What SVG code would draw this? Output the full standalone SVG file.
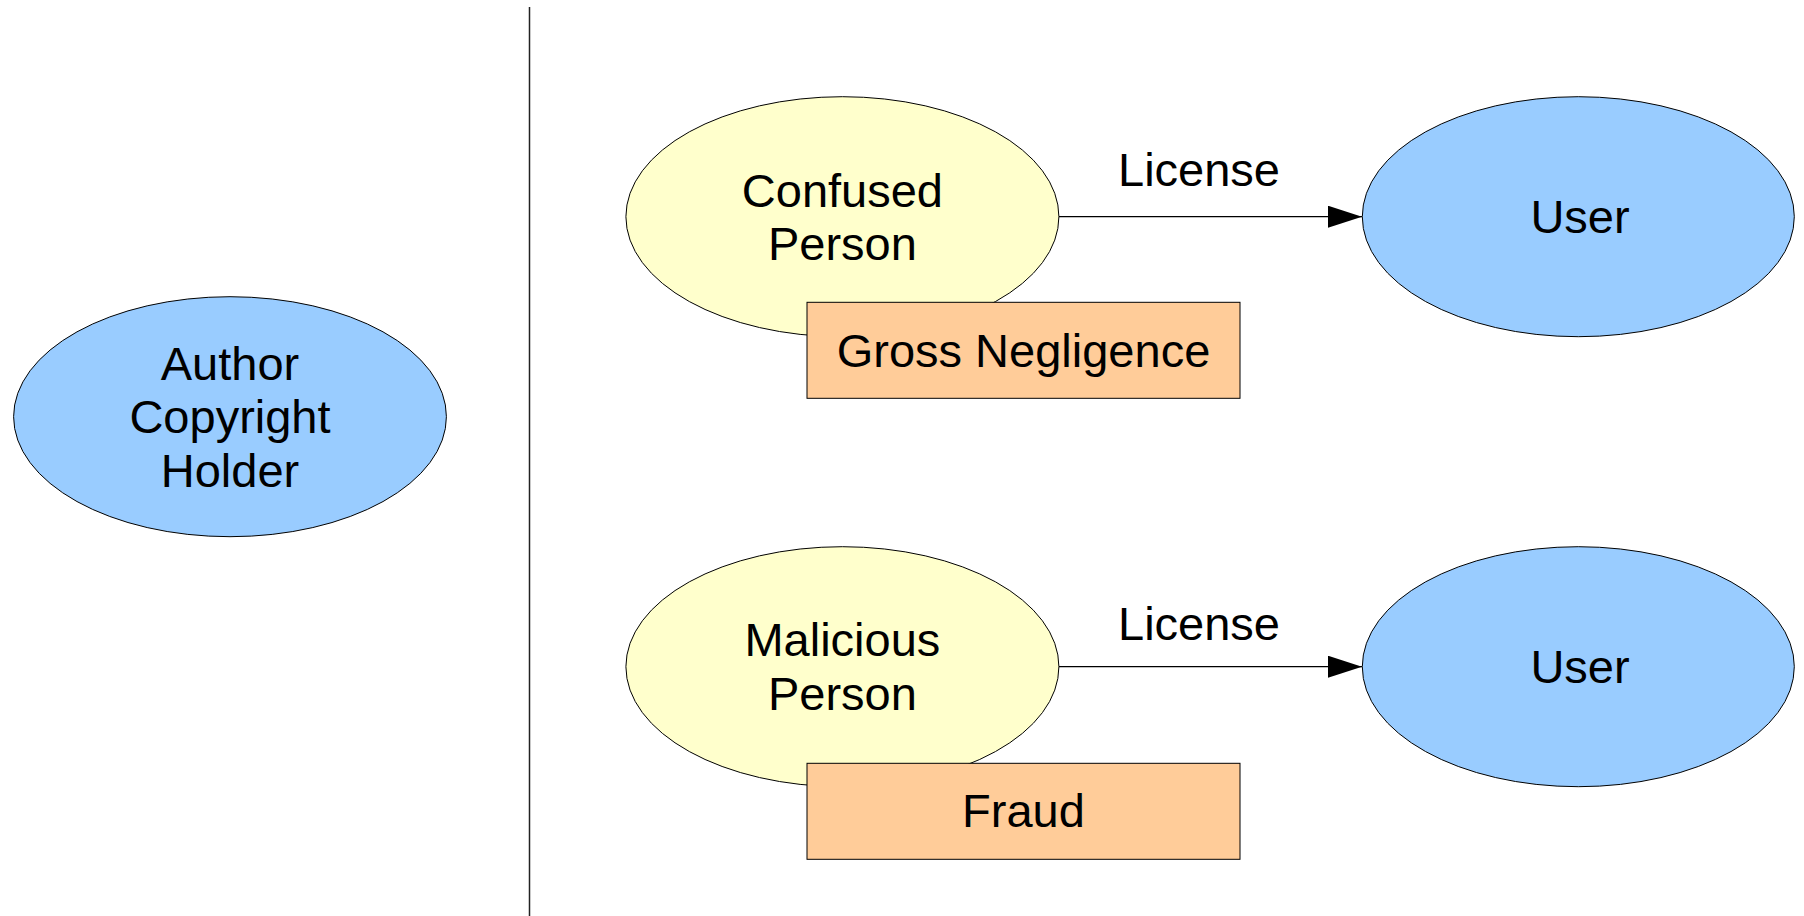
<svg xmlns="http://www.w3.org/2000/svg" width="1804" height="916" viewBox="0 0 1804 916">
  <defs>
    <style>
      .lbl { font-family: "Liberation Sans", Arial, sans-serif; font-size: 47px; fill: #000; text-anchor: middle; }
      .blue { fill: #99ccff; stroke: #000; stroke-width: 1; }
      .yellow { fill: #ffffcc; stroke: #000; stroke-width: 1; }
      .orange { fill: #ffcc99; stroke: #000; stroke-width: 1; }
      .edge { stroke: #000; stroke-width: 1.2; fill: none; }
    </style>
    <marker id="arrow" markerUnits="userSpaceOnUse" markerWidth="34" markerHeight="22" refX="34" refY="11" orient="auto">
      <path d="M0,0 L34,11 L0,22 z" fill="#000"/>
    </marker>
  </defs>
  <rect width="1804" height="916" fill="#fff"/>

  <g id="divider">
    <line x1="529.5" y1="7" x2="529.5" y2="916" stroke="#222" stroke-width="1.5"/>
  </g>

  <g id="author">
    <ellipse class="blue" cx="230" cy="416.7" rx="216.4" ry="120"/>
    <text class="lbl" x="230" y="380">Author</text>
    <text class="lbl" x="230" y="433">Copyright</text>
    <text class="lbl" x="230" y="486.7">Holder</text>
  </g>

  <g id="connectors">
    <line class="edge" x1="1059" y1="216.7" x2="1362" y2="216.7" marker-end="url(#arrow)"/>
    <text class="lbl" x="1199" y="185.7">License</text>
    <line class="edge" x1="1059" y1="666.7" x2="1362" y2="666.7" marker-end="url(#arrow)"/>
    <text class="lbl" x="1199" y="639.5">License</text>
  </g>

  <g id="confused-person">
    <ellipse class="yellow" cx="842.4" cy="216.7" rx="216.5" ry="120"/>
    <text class="lbl" x="842.4" y="206.7">Confused</text>
    <text class="lbl" x="842.4" y="260">Person</text>
  </g>

  <g id="gross-negligence">
    <rect class="orange" x="807" y="302.3" width="433" height="96"/>
    <text class="lbl" x="1023.5" y="366.7">Gross Negligence</text>
  </g>

  <g id="user-1">
    <ellipse class="blue" cx="1578.3" cy="216.7" rx="216" ry="120"/>
    <text class="lbl" x="1580" y="233.3">User</text>
  </g>

  <g id="malicious-person">
    <ellipse class="yellow" cx="842.4" cy="666.7" rx="216.5" ry="120"/>
    <text class="lbl" x="842.4" y="656">Malicious</text>
    <text class="lbl" x="842.4" y="710">Person</text>
  </g>

  <g id="fraud">
    <rect class="orange" x="807" y="763.3" width="433" height="96"/>
    <text class="lbl" x="1023.5" y="826.7">Fraud</text>
  </g>

  <g id="user-2">
    <ellipse class="blue" cx="1578.3" cy="666.7" rx="216" ry="120"/>
    <text class="lbl" x="1580" y="683.3">User</text>
  </g>
</svg>
